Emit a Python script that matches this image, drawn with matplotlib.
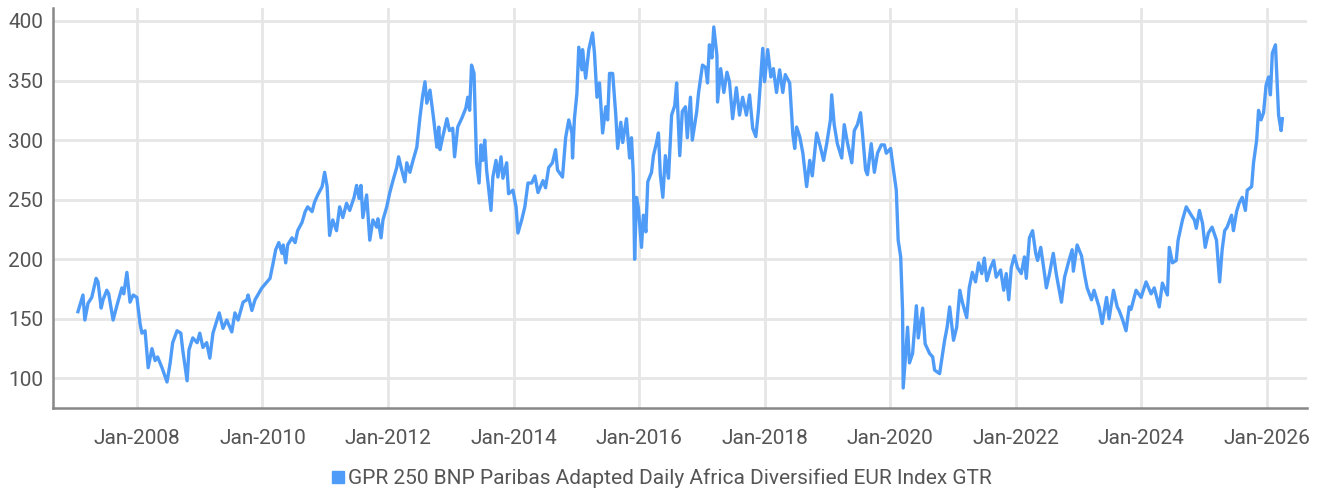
import matplotlib
matplotlib.use("Agg")
import matplotlib.pyplot as plt
import matplotlib.dates as mdates
import numpy as np
import pandas as pd
from matplotlib.lines import Line2D

# dates as decimal years
years = [
    2007.06, 2007.14, 2007.17, 2007.22, 2007.28, 2007.35, 2007.38, 2007.43, 2007.46, 2007.52,
    2007.55, 2007.62, 2007.68, 2007.76, 2007.79, 2007.84, 2007.89, 2007.94,
    2008.00, 2008.05, 2008.08, 2008.13, 2008.18, 2008.24, 2008.29, 2008.33, 2008.40, 2008.48,
    2008.53, 2008.57, 2008.64, 2008.70, 2008.73, 2008.80, 2008.83, 2008.89, 2008.96,
    2009.00, 2009.05, 2009.11, 2009.16, 2009.21, 2009.31, 2009.37, 2009.43, 2009.51, 2009.56,
    2009.61, 2009.69, 2009.75, 2009.77, 2009.83, 2009.88, 2009.99,
    2010.12, 2010.17, 2010.21, 2010.26, 2010.31, 2010.33, 2010.37, 2010.40, 2010.47, 2010.52,
    2010.56, 2010.63, 2010.68, 2010.72, 2010.79, 2010.83, 2010.88, 2010.95, 2010.99,
    2011.03, 2011.07, 2011.12, 2011.18, 2011.23, 2011.28, 2011.34, 2011.39, 2011.46, 2011.50,
    2011.54, 2011.57, 2011.60, 2011.66, 2011.71, 2011.76, 2011.82, 2011.84, 2011.89, 2011.92,
    2011.98,
    2012.03, 2012.08, 2012.14, 2012.17, 2012.22, 2012.27, 2012.30, 2012.35, 2012.40, 2012.46,
    2012.51, 2012.55, 2012.59, 2012.62, 2012.67, 2012.73, 2012.78, 2012.81, 2012.83, 2012.87,
    2012.94, 2012.98,
    2013.03, 2013.06, 2013.11, 2013.18, 2013.24, 2013.27, 2013.30, 2013.33, 2013.37, 2013.41,
    2013.45, 2013.48, 2013.51, 2013.54, 2013.57, 2013.64, 2013.67, 2013.72, 2013.75, 2013.80,
    2013.83, 2013.89, 2013.92, 2013.99,
    2014.04, 2014.07, 2014.13, 2014.18, 2014.23, 2014.29, 2014.34, 2014.39, 2014.47, 2014.51,
    2014.56, 2014.62, 2014.67, 2014.70, 2014.78, 2014.83, 2014.88, 2014.93, 2014.94, 2014.97,
    2015.01, 2015.04, 2015.09, 2015.10, 2015.15, 2015.20, 2015.26, 2015.29, 2015.33, 2015.37,
    2015.42, 2015.47, 2015.50, 2015.53, 2015.58, 2015.63, 2015.66, 2015.71, 2015.74, 2015.80,
    2015.85, 2015.88, 2015.91, 2015.93, 2015.96, 2015.99,
    2016.04, 2016.07, 2016.11, 2016.14, 2016.20, 2016.23, 2016.28, 2016.31, 2016.34, 2016.38,
    2016.42, 2016.47, 2016.52, 2016.57, 2016.60, 2016.65, 2016.69, 2016.74, 2016.77, 2016.82,
    2016.85, 2016.92, 2016.95,
    2017.01, 2017.06, 2017.09, 2017.12, 2017.16, 2017.19, 2017.24, 2017.25, 2017.30, 2017.35,
    2017.40, 2017.44, 2017.49, 2017.55, 2017.60, 2017.65, 2017.71, 2017.76, 2017.81, 2017.86,
    2017.90, 2017.97,
    2018.00, 2018.05, 2018.10, 2018.14, 2018.19, 2018.24, 2018.29, 2018.33, 2018.40, 2018.45,
    2018.48, 2018.51, 2018.56, 2018.61, 2018.67, 2018.72, 2018.76, 2018.83, 2018.89, 2018.94,
    2018.99,
    2019.05, 2019.07, 2019.11, 2019.16, 2019.23, 2019.27, 2019.32, 2019.39, 2019.43, 2019.48,
    2019.53, 2019.56, 2019.61, 2019.64, 2019.70, 2019.75, 2019.80, 2019.86, 2019.91, 2019.94,
    2020.01, 2020.05, 2020.10, 2020.13, 2020.17, 2020.20, 2020.21, 2020.25, 2020.28, 2020.31,
    2020.36, 2020.42, 2020.45, 2020.52, 2020.56, 2020.63, 2020.68, 2020.71, 2020.79, 2020.87,
    2020.91, 2020.95,
    2021.01, 2021.06, 2021.11, 2021.15, 2021.22, 2021.26, 2021.31, 2021.36, 2021.41, 2021.46,
    2021.50, 2021.54, 2021.60, 2021.65, 2021.69, 2021.76, 2021.81, 2021.85, 2021.89, 2021.93,
    2021.98,
    2022.03, 2022.09, 2022.14, 2022.17, 2022.22, 2022.27, 2022.32, 2022.35, 2022.40, 2022.46,
    2022.49, 2022.54, 2022.60, 2022.65, 2022.73, 2022.78, 2022.84, 2022.90, 2022.92, 2022.98,
    2023.05, 2023.10, 2023.14, 2023.21, 2023.25, 2023.33, 2023.38, 2023.45, 2023.49, 2023.56,
    2023.62, 2023.65, 2023.70, 2023.76, 2023.81, 2023.84, 2023.92,
    2024.00, 2024.08, 2024.16, 2024.21, 2024.29, 2024.34, 2024.42, 2024.45, 2024.50, 2024.56,
    2024.59, 2024.66, 2024.72, 2024.80, 2024.85, 2024.88, 2024.93, 2024.98,
    2025.02, 2025.07, 2025.13, 2025.20, 2025.25, 2025.29, 2025.33, 2025.37, 2025.44, 2025.47,
    2025.52, 2025.56, 2025.61, 2025.66, 2025.69, 2025.76, 2025.79, 2025.84, 2025.87, 2025.91,
    2025.95, 2025.99,
    2026.03, 2026.06, 2026.09, 2026.14, 2026.17, 2026.19, 2026.23, 2026.25,
]
values = [
    156, 170, 149, 163, 168, 184, 181, 159, 166, 174,
    171, 149, 161, 176, 171, 189, 164, 170,
    168, 146, 138, 140, 109, 125, 115, 118, 109, 97,
    113, 130, 140, 138, 124, 98, 124, 134, 130,
    138, 126, 130, 117, 138, 155, 142, 149, 139, 155,
    149, 164, 166, 170, 157, 166, 176,
    184, 197, 208, 214, 205, 212, 197, 212, 218, 214,
    224, 231, 240, 244, 240, 248, 254, 261, 273,
    261, 220, 233, 224, 244, 235, 247, 241, 252, 262,
    251, 262, 235, 254, 216, 233, 227, 234, 218, 233,
    244,
    256, 266, 277, 286, 275, 265, 281, 273, 283, 294,
    319, 336, 349, 331, 342, 317, 294, 311, 292, 302,
    318, 308,
    310, 286, 311, 319, 327, 336, 325, 363, 356, 281,
    264, 296, 283, 300, 275, 241, 269, 283, 269, 286,
    268, 281, 255, 258,
    244, 222, 233, 244, 264, 264, 270, 256, 266, 260,
    277, 281, 292, 275, 269, 302, 317, 306, 285, 318,
    339, 378, 359, 376, 352, 376, 390, 373, 336, 348,
    306, 328, 317, 356, 356, 321, 293, 315, 298, 318,
    285, 302, 270, 200, 252, 243,
    210, 237, 223, 265, 273, 287, 298, 306, 271, 252,
    287, 268, 321, 329, 348, 287, 324, 328, 302, 336,
    300, 324, 340,
    363, 361, 348, 380, 369, 395, 371, 332, 360, 340,
    357, 349, 318, 344, 321, 336, 321, 338, 310, 303,
    324, 377,
    349, 376, 353, 360, 340, 359, 340, 355, 348, 305,
    293, 311, 303, 289, 261, 283, 270, 306, 294, 283,
    297,
    317, 338, 313, 297, 285, 313, 298, 281, 308, 313,
    323, 306, 275, 271, 297, 273, 289, 296, 296, 289,
    293, 277, 258, 216, 202, 157, 92, 121, 143, 113,
    121, 161, 134, 159, 129, 121, 118, 107, 104, 132,
    143, 160,
    132, 143, 174, 164, 151, 176, 189, 181, 197, 188,
    201, 182, 193, 199, 185, 191, 174, 188, 166, 193,
    203,
    193, 188, 202, 184, 218, 224, 205, 199, 210, 188,
    176, 188, 205, 187, 164, 185, 197, 208, 190, 212,
    203, 187, 176, 166, 174, 160, 146, 168, 150, 174,
    160, 157, 150, 140, 160, 158, 174,
    168, 181, 171, 176, 160, 180, 170, 210, 197, 199,
    216, 233, 244, 237, 233, 226, 241, 230,
    210, 222, 227, 216, 181, 208, 224, 227, 237, 224,
    240, 247, 252, 241, 258, 261, 281, 300, 325, 317,
    323, 346,
    353, 338, 373, 380, 345, 321, 308, 318,
]
series_name = "GPR 250 BNP Paribas Adapted Daily Africa Diversified EUR Index GTR"
y_ticks = [100, 150, 200, 250, 300, 350, 400]


def to_date(y):
    base = pd.Timestamp(year=int(y), month=1, day=1)
    return base + pd.Timedelta(days=(y - int(y)) * 365.25)


dates = [to_date(y) for y in years]

plt.rcParams["font.family"] = ["Roboto", "DejaVu Sans"]

line_color = "#4f9cf8"
text_color = "#555555"
grid_color = "#e6e6e6"

fig = plt.figure(figsize=(13.22, 4.93), dpi=100)
ax = fig.add_axes([0.040, 0.172, 0.949, 0.812])

ax.plot(dates, values, color=line_color, linewidth=2.4, solid_joinstyle="round")

ax.set_ylim(75, 411)
ax.set_xlim(to_date(2006.66), to_date(2026.65))
ax.set_yticks(y_ticks)
ax.xaxis.set_major_locator(mdates.YearLocator(2, month=1, day=1))
ax.xaxis.set_major_formatter(mdates.DateFormatter("%b-%Y"))

ax.grid(True, color=grid_color, linewidth=2.0)
ax.set_axisbelow(True)
for s in ["top", "right"]:
    ax.spines[s].set_visible(False)
for s in ["left", "bottom"]:
    ax.spines[s].set_color("#888888")
    ax.spines[s].set_linewidth(1.8)

ax.tick_params(axis="both", length=0, labelsize=15, labelcolor=text_color)
ax.tick_params(axis="x", pad=15)
ax.tick_params(axis="y", pad=7)

handle = Line2D([], [], color=line_color, marker="s", linestyle="none", markersize=8)
fig.legend([handle], [series_name], loc="center", bbox_to_anchor=(0.5, 0.03),
           frameon=False, fontsize=15, labelcolor=text_color,
           handletextpad=0.1, handlelength=0.8)

fig.savefig("out.png", dpi=100)
